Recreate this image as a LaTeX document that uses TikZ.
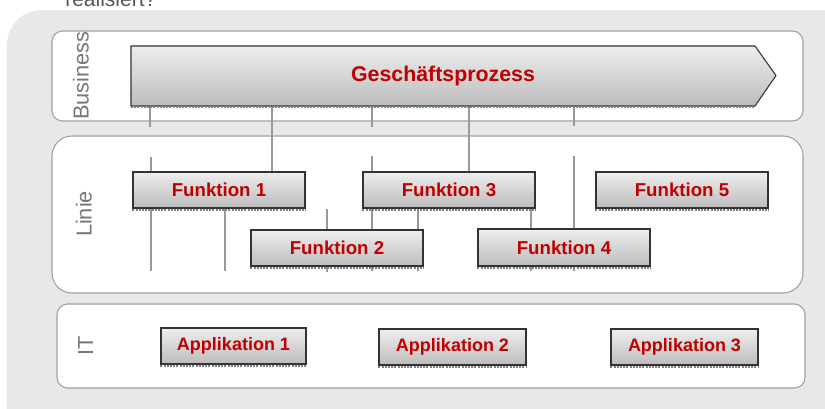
\documentclass[tikz,border=0pt]{standalone}
\usepackage{fontspec}
\setmainfont{Liberation Sans}
\usetikzlibrary{fit}
\definecolor{bgray}{HTML}{E8E8E8}
\definecolor{pborder}{HTML}{A0A0A0}
\definecolor{dred}{HTML}{C00000}
\definecolor{lgray}{HTML}{777777}
\definecolor{qgray}{HTML}{555555}
\definecolor{ctop}{HTML}{EEEEEE}
\definecolor{cbot}{HTML}{BCBCBC}
\definecolor{conn}{HTML}{999999}
\begin{document}
\begin{tikzpicture}[x=0.75pt,y=-0.75pt,
  panel/.style={draw=pborder, fill=white, line width=0.8pt},
  fbox/.style={draw=black!80, line width=0.8pt, top color=ctop, bottom color=cbot,
    inner sep=0pt},
  ftext/.style={text=dred, inner sep=0pt, font=\bfseries\fontsize{14}{16}\selectfont},
  atext/.style={text=dred, inner sep=0pt, font=\bfseries\fontsize{13.5}{16}\selectfont},
  conline/.style={draw=conn, line width=0.9pt},
  shadowline/.style={draw=gray, densely dotted, line width=1.4pt},
  lanelabel/.style={rotate=90, anchor=base, text=lgray, inner sep=0pt,
    font=\fontsize{16.3}{18}\selectfont}]
\useasboundingbox (0,0) rectangle (825,408);
\clip (0,0) rectangle (825,408);

% background
\fill[bgray, rounded corners=26pt] (7,10) rectangle (900,480);
\node[anchor=base west, inner sep=0pt, text=qgray, font=\fontsize{15.75}{18}\selectfont] (q) at (65,6.5) {realisiert?};

% panels
\draw[panel, rounded corners=8pt] (52,31) rectangle (803,121);
\draw[panel, rounded corners=15pt] (52,136) rectangle (803,293);
\draw[panel, rounded corners=8pt] (57,304) rectangle (805,388);

\node[lanelabel] (lb) at (88.5,75.5) {Business};
\node[lanelabel] (ll) at (91.5,214) {Linie};
\node[lanelabel] (li) at (93,346) {IT};

% arrow connector points
\coordinate (a1) at (150,106);
\coordinate (a2) at (272,106);
\coordinate (a3) at (372,106);
\coordinate (a4) at (469,106);
\coordinate (a5) at (574,106);
\coordinate (e1) at (150,127);
\coordinate (e3) at (372,127);
\coordinate (e5) at (574,126);
\coordinate (e2) at (272,172);
\coordinate (e4) at (469,172);

\draw[conline] (a1) -- (e1);
\draw[conline] (a3) -- (e3);
\draw[conline] (a5) -- (e5);
\draw[conline] (a2) -- (e2);
\draw[conline] (a4) -- (e4);

\coordinate (l1t) at (151,157); \coordinate (l1b) at (151,271);
\coordinate (l2t) at (225,208); \coordinate (l2b) at (225,271);
\coordinate (l3t) at (327,209); \coordinate (l3b) at (327,272);
\coordinate (l4t) at (372,156); \coordinate (l4b) at (372,271);
\coordinate (l5t) at (418,208); \coordinate (l5b) at (418,271);
\coordinate (l6t) at (531,208); \coordinate (l6b) at (531,271);
\coordinate (l7t) at (574,156); \coordinate (l7b) at (574,271);
\foreach \n in {1,...,7} { \draw[conline] (l\n t) -- (l\n b); }

% process arrow
\shade[draw=black!80, line width=0.8pt, top color=ctop, bottom color=cbot]
  (131,46) -- (755,46) -- (776,75.5) -- (755,106) -- (131,106) -- cycle;
\draw[shadowline] (131,107.3) -- (755,107.3);
\node[text=dred, font=\bfseries\fontsize{16}{18}\selectfont] (gp) at (443,76) {Geschäftsprozess};

% functions
\node[fbox, fit={(133,172)(305,208)}] (f1) {};
\node[fbox, fit={(251,230)(423,266)}] (f2) {};
\node[fbox, fit={(363,172)(535,208)}] (f3) {};
\node[fbox, fit={(478,229)(650,266)}] (f4) {};
\node[fbox, fit={(596,172)(768,208)}] (f5) {};
\foreach \b/\t in {f1/1,f2/2,f3/3,f4/4,f5/5} {
  \draw[shadowline] ([yshift=-1.1pt]\b.south west) -- ([yshift=-1.1pt]\b.south east);
  \node[ftext] (\b t) at (\b.center) {Funktion \t};
}

% applications
\node[fbox, fit={(161,328)(306,364)}] (p1) {};
\node[fbox, fit={(379,329)(526,365)}] (p2) {};
\node[fbox, fit={(611,329)(758,365)}] (p3) {};
\foreach \b/\t in {p1/1,p2/2,p3/3} {
  \draw[shadowline] ([yshift=-1.1pt]\b.south west) -- ([yshift=-1.1pt]\b.south east);
  \node[atext] (\b t) at (\b.center) {Applikation \t};
}
\end{tikzpicture}
\end{document}
